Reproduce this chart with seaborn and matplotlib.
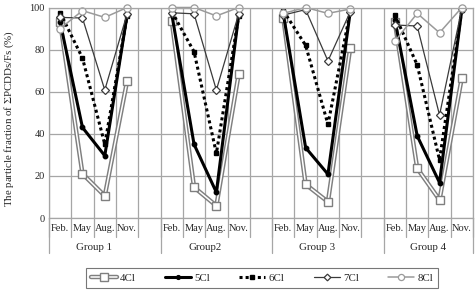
import numpy as np
import pandas as pd
import seaborn as sns
import matplotlib.pyplot as plt
from matplotlib.lines import Line2D
from matplotlib.legend_handler import HandlerTuple

months = ["Feb.", "May", "Aug.", "Nov."]
groups = ["Group 1", "Group2", "Group 3", "Group 4"]

cl4 = [93, 21, 10.5, 65, 93.5, 14.6, 5.8, 68.4, 95, 16, 7.7, 80.9, 93, 23.6, 8.6, 66.7]
cl5 = [93, 43, 29.6, 96.4, 97, 35, 12.2, 96.4, 97, 33.4, 20.8, 98, 94, 39, 16.8, 99]
cl6 = [97.5, 76, 35, 96, 98, 79, 30.7, 96, 98.5, 82, 44.5, 98, 96.4, 72.7, 27.6, 99]
cl7 = [95.3, 95, 60.8, 97, 97.5, 97, 60.8, 97, 96.4, 99, 74.6, 98, 91.7, 91.2, 48.9, 99.5]
cl8 = [90, 98.5, 95.3, 100, 100, 100, 96, 100, 97.2, 100, 97.2, 99.3, 84, 97.2, 88, 100]

series = {"4Cl": cl4, "5Cl": cl5, "6Cl": cl6, "7Cl": cl7, "8Cl": cl8}

# long table, one blank category between groups
rows = []
for name, vals in series.items():
    for gi, g in enumerate(groups):
        for mi, m in enumerate(months):
            rows.append({"series": name, "group": g, "month": m,
                         "pos": gi * 5 + mi, "val": vals[gi * 4 + mi]})
df = pd.DataFrame(rows)

sns.set_theme(style="whitegrid")
plt.rcParams["font.family"] = ["Liberation Serif", "DejaVu Serif"]
plt.rcParams["mathtext.fontset"] = "stix"

fig = plt.figure(figsize=(4.77, 2.90), dpi=100)
ax = fig.add_axes([49 / 477, 1 - 218 / 290, 424 / 477, 210.5 / 290])

grid_c = "#a6a6a6"

styles = {
    "4Cl": dict(color="#7f7f7f", lw=3.2, marker="s", ms=5.8, mfc="white", mec="#7f7f7f", mew=1.0),
    "5Cl": dict(color="black", lw=2.2, marker="o", ms=3.2, mfc="black", mec="black"),
    "6Cl": dict(color="black", lw=2.2, ls=(0, (1, 1)), marker="s", ms=3.4, mfc="black", mec="black"),
    "7Cl": dict(color="#3a3a3a", lw=0.9, marker="D", ms=4.0, mfc="white", mec="#3a3a3a", mew=0.9),
    "8Cl": dict(color="#9a9a9a", lw=1.1, marker="o", ms=5.2, mfc="white", mec="#9a9a9a", mew=0.9),
}

for name in series:
    sub = df[df["series"] == name]
    st = styles[name]
    if name == "4Cl":
        sns.lineplot(data=sub, x="pos", y="val", units="group", estimator=None, sort=False,
                     color=st["color"], lw=st["lw"], ax=ax, clip_on=False)
        sns.lineplot(data=sub, x="pos", y="val", units="group", estimator=None, sort=False,
                     color="white", lw=1.1, marker=st["marker"], ms=st["ms"], mfc=st["mfc"],
                     mec=st["mec"], mew=st["mew"], ax=ax, clip_on=False)
    else:
        sns.lineplot(data=sub, x="pos", y="val", units="group", estimator=None, sort=False,
                     color=st["color"], lw=st["lw"], ls=st.get("ls", "-"), marker=st["marker"],
                     ms=st["ms"], mfc=st["mfc"], mec=st["mec"], mew=st.get("mew", 1.0),
                     ax=ax, clip_on=False)

n_cat = 19
ax.set_xlim(-0.5, n_cat - 0.5)
ax.set_ylim(0, 100)
ax.set_xticks(np.arange(-0.5, n_cat, 1.0))
ax.set_xticklabels([])
ax.set_yticks(range(0, 101, 20))
ax.tick_params(axis="both", length=0, labelsize=7.5, pad=3)
ax.grid(True, color=grid_c, lw=0.9)
for sp in ax.spines.values():
    sp.set_color(grid_c)
    sp.set_linewidth(0.9)
ax.set_xlabel("")
ax.set_ylabel("")
if ax.get_legend():
    ax.get_legend().remove()

# multi-level category axis
tr = ax.get_xaxis_transform()
for gi, g in enumerate(groups):
    base = gi * 5
    for mi, m in enumerate(months):
        ax.text(base + mi, -0.052, m, transform=tr, ha="center", va="center", fontsize=7.5)
    ax.text(base + 1.5, -0.138, g, transform=tr, ha="center", va="center", fontsize=7.8)
for b in np.arange(-0.5, n_cat, 1.0):
    ax.plot([b, b], [0, -0.09], transform=tr, color=grid_c, lw=0.9, clip_on=False)
for b in [-0.5, 4.5, 9.5, 14.5, 18.5]:
    ax.plot([b, b], [0, -0.168], transform=tr, color=grid_c, lw=0.9, clip_on=False)

fig.text(9 / 477, 1 - 118 / 290, r"The particle fraction of $\Sigma$PCDDs/Fs (%)",
         rotation=90, ha="center", va="center", fontsize=7.8)

handles = []
for name in series:
    st = styles[name]
    if name == "4Cl":
        h = (Line2D([], [], color=st["color"], lw=st["lw"]),
             Line2D([], [], color="white", lw=1.1, marker="s", ms=st["ms"] * 0.9, mfc="white",
                    mec=st["mec"], mew=st["mew"]))
    else:
        h = Line2D([], [], color=st["color"], lw=st["lw"], ls=st.get("ls", "-"),
                   marker=st["marker"], ms=st["ms"] * 0.85, mfc=st["mfc"], mec=st["mec"],
                   mew=st.get("mew", 1.0))
    handles.append(h)

leg = fig.legend(handles, list(series), loc="center", bbox_to_anchor=(262 / 477, 12 / 290),
                 ncol=5, fontsize=7.8, frameon=True, fancybox=False, handlelength=2.4,
                 columnspacing=2.7, handletextpad=0.3, borderpad=0.45, borderaxespad=0,
                 handler_map={tuple: HandlerTuple(ndivide=1, pad=0)})
leg.get_frame().set_edgecolor("#555555")
leg.get_frame().set_linewidth(0.8)

fig.savefig("out.png", dpi=100)
